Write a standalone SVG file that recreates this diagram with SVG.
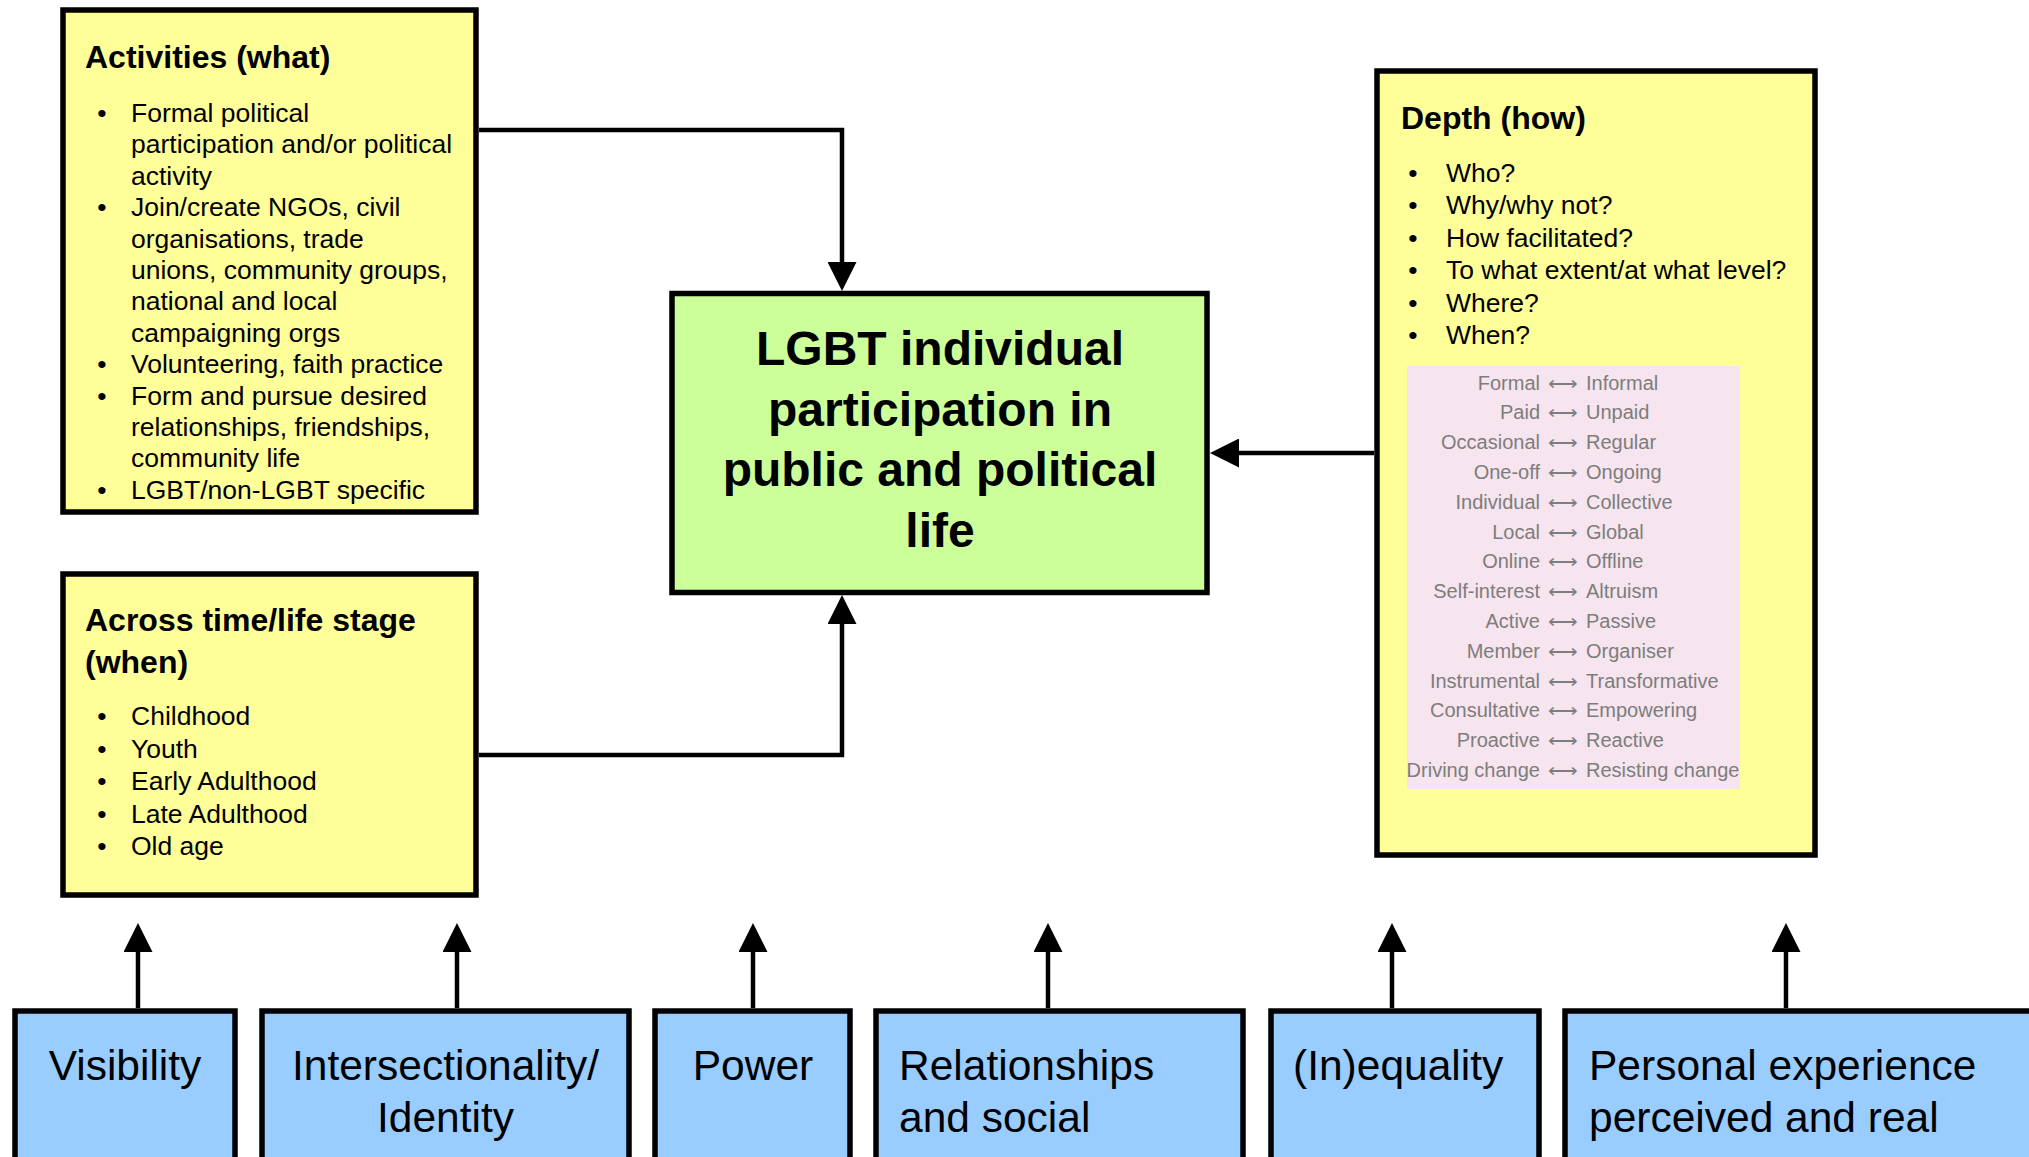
<svg xmlns="http://www.w3.org/2000/svg" width="2029" height="1157" viewBox="0 0 2029 1157">
<style>
.box{stroke:#000;stroke-width:5.5}
.y{fill:#FFFF99}
.g{fill:#CCFF99}
.b{fill:#99CCFF}
.t{font-family:"Liberation Sans",Arial,Helvetica,sans-serif;fill:#000}
.h{font-size:32px;font-weight:bold}
.li{font-size:26.5px}
.bul{font-size:26.5px;text-anchor:middle}
.c{font-size:48px;font-weight:bold;text-anchor:middle}
.f{font-size:42.5px}
.p{font-family:"Liberation Sans",Arial,sans-serif;font-size:20px;fill:#7d7d7d}
.conn{fill:none;stroke:#000;stroke-width:4.5}
</style>
<defs>
<marker id="ah" viewBox="0 0 29 29" refX="2" refY="14.5" markerWidth="29" markerHeight="29" markerUnits="userSpaceOnUse" orient="auto">
<path d="M0,0 L29,14.5 L0,29 z" fill="#000"/>
</marker>
</defs>
<rect width="2029" height="1157" fill="#fff"/>

<g id="connectors">
<polyline class="conn" points="479,130 842,130 842,264" marker-end="url(#ah)"/>
<polyline class="conn" points="479,755 842,755 842,622" marker-end="url(#ah)"/>
<line class="conn" x1="1374" y1="453" x2="1237" y2="453" marker-end="url(#ah)"/>
<line class="conn" x1="138" y1="1008" x2="138" y2="950" marker-end="url(#ah)"/>
<line class="conn" x1="457" y1="1008" x2="457" y2="950" marker-end="url(#ah)"/>
<line class="conn" x1="753" y1="1008" x2="753" y2="950" marker-end="url(#ah)"/>
<line class="conn" x1="1048" y1="1008" x2="1048" y2="950" marker-end="url(#ah)"/>
<line class="conn" x1="1392" y1="1008" x2="1392" y2="950" marker-end="url(#ah)"/>
<line class="conn" x1="1786" y1="1008" x2="1786" y2="950" marker-end="url(#ah)"/>
</g>

<g id="activities">
<rect class="box y" x="63" y="10" width="413" height="502"/>
<text class="t h" x="85" y="68">Activities (what)</text>
<g class="t">
<text class="bul" x="102" y="122">•</text>
<text class="li" x="131" y="122">Formal political</text>
<text class="li" x="131" y="153.4">participation and/or political</text>
<text class="li" x="131" y="184.8">activity</text>
<text class="bul" x="102" y="216.2">•</text>
<text class="li" x="131" y="216.2">Join/create NGOs, civil</text>
<text class="li" x="131" y="247.6">organisations, trade</text>
<text class="li" x="131" y="279">unions, community groups,</text>
<text class="li" x="131" y="310.4">national and local</text>
<text class="li" x="131" y="341.8">campaigning orgs</text>
<text class="bul" x="102" y="373.2">•</text>
<text class="li" x="131" y="373.2">Volunteering, faith practice</text>
<text class="bul" x="102" y="404.6">•</text>
<text class="li" x="131" y="404.6">Form and pursue desired</text>
<text class="li" x="131" y="436">relationships, friendships,</text>
<text class="li" x="131" y="467.4">community life</text>
<text class="bul" x="102" y="498.8">•</text>
<text class="li" x="131" y="498.8">LGBT/non-LGBT specific</text>
</g>
</g>

<g id="across">
<rect class="box y" x="63" y="574" width="413" height="321"/>
<text class="t h" x="85" y="631">Across time/life stage</text>
<text class="t h" x="85" y="673">(when)</text>
<g class="t">
<text class="bul" x="102" y="725">•</text>
<text class="li" x="131" y="725">Childhood</text>
<text class="bul" x="102" y="757.5">•</text>
<text class="li" x="131" y="757.5">Youth</text>
<text class="bul" x="102" y="790">•</text>
<text class="li" x="131" y="790">Early Adulthood</text>
<text class="bul" x="102" y="822.5">•</text>
<text class="li" x="131" y="822.5">Late Adulthood</text>
<text class="bul" x="102" y="855">•</text>
<text class="li" x="131" y="855">Old age</text>
</g>
</g>

<g id="centre">
<rect class="box g" x="672" y="293.5" width="535" height="299"/>
<g class="t c">
<text x="940" y="365">LGBT individual</text>
<text x="940" y="425.5">participation in</text>
<text x="940" y="486">public and political</text>
<text x="940" y="546.5">life</text>
</g>
</g>

<g id="depth">
<rect class="box y" x="1377" y="71" width="438" height="784"/>
<text class="t h" x="1401" y="129">Depth (how)</text>
<g class="t">
<text class="bul" x="1413" y="182">•</text>
<text class="li" x="1446" y="182">Who?</text>
<text class="bul" x="1413" y="214">•</text>
<text class="li" x="1446" y="214">Why/why not?</text>
<text class="bul" x="1413" y="246.5">•</text>
<text class="li" x="1446" y="246.5">How facilitated?</text>
<text class="bul" x="1413" y="279">•</text>
<text class="li" x="1446" y="279">To what extent/at what level?</text>
<text class="bul" x="1413" y="311.5">•</text>
<text class="li" x="1446" y="311.5">Where?</text>
<text class="bul" x="1413" y="344">•</text>
<text class="li" x="1446" y="344">When?</text>
</g>
<rect x="1407" y="366" width="333" height="423" fill="#F6E4EE"/>
<g class="p">
<text x="1540" y="389.5" text-anchor="end">Formal</text><text x="1563" y="389.5" text-anchor="middle" textLength="30" lengthAdjust="spacingAndGlyphs">⟷</text><text x="1586" y="389.5">Informal</text>
<text x="1540" y="419.3" text-anchor="end">Paid</text><text x="1563" y="419.3" text-anchor="middle" textLength="30" lengthAdjust="spacingAndGlyphs">⟷</text><text x="1586" y="419.3">Unpaid</text>
<text x="1540" y="449.1" text-anchor="end">Occasional</text><text x="1563" y="449.1" text-anchor="middle" textLength="30" lengthAdjust="spacingAndGlyphs">⟷</text><text x="1586" y="449.1">Regular</text>
<text x="1540" y="478.9" text-anchor="end">One-off</text><text x="1563" y="478.9" text-anchor="middle" textLength="30" lengthAdjust="spacingAndGlyphs">⟷</text><text x="1586" y="478.9">Ongoing</text>
<text x="1540" y="508.7" text-anchor="end">Individual</text><text x="1563" y="508.7" text-anchor="middle" textLength="30" lengthAdjust="spacingAndGlyphs">⟷</text><text x="1586" y="508.7">Collective</text>
<text x="1540" y="538.5" text-anchor="end">Local</text><text x="1563" y="538.5" text-anchor="middle" textLength="30" lengthAdjust="spacingAndGlyphs">⟷</text><text x="1586" y="538.5">Global</text>
<text x="1540" y="568.3" text-anchor="end">Online</text><text x="1563" y="568.3" text-anchor="middle" textLength="30" lengthAdjust="spacingAndGlyphs">⟷</text><text x="1586" y="568.3">Offline</text>
<text x="1540" y="598.1" text-anchor="end">Self-interest</text><text x="1563" y="598.1" text-anchor="middle" textLength="30" lengthAdjust="spacingAndGlyphs">⟷</text><text x="1586" y="598.1">Altruism</text>
<text x="1540" y="627.9" text-anchor="end">Active</text><text x="1563" y="627.9" text-anchor="middle" textLength="30" lengthAdjust="spacingAndGlyphs">⟷</text><text x="1586" y="627.9">Passive</text>
<text x="1540" y="657.7" text-anchor="end">Member</text><text x="1563" y="657.7" text-anchor="middle" textLength="30" lengthAdjust="spacingAndGlyphs">⟷</text><text x="1586" y="657.7">Organiser</text>
<text x="1540" y="687.5" text-anchor="end">Instrumental</text><text x="1563" y="687.5" text-anchor="middle" textLength="30" lengthAdjust="spacingAndGlyphs">⟷</text><text x="1586" y="687.5">Transformative</text>
<text x="1540" y="717.3" text-anchor="end">Consultative</text><text x="1563" y="717.3" text-anchor="middle" textLength="30" lengthAdjust="spacingAndGlyphs">⟷</text><text x="1586" y="717.3">Empowering</text>
<text x="1540" y="747.1" text-anchor="end">Proactive</text><text x="1563" y="747.1" text-anchor="middle" textLength="30" lengthAdjust="spacingAndGlyphs">⟷</text><text x="1586" y="747.1">Reactive</text>
<text x="1540" y="776.9" text-anchor="end">Driving change</text><text x="1563" y="776.9" text-anchor="middle" textLength="30" lengthAdjust="spacingAndGlyphs">⟷</text><text x="1586" y="776.9">Resisting change</text>
</g>
</g>

<g id="visibility">
<rect class="box b" x="15" y="1011" width="220" height="170"/>
<text class="t f" x="125" y="1080" text-anchor="middle">Visibility</text>
</g>
<g id="intersectionality">
<rect class="box b" x="262" y="1011" width="367" height="170"/>
<text class="t f" x="445.5" y="1080" text-anchor="middle">Intersectionality/</text>
<text class="t f" x="445.5" y="1132" text-anchor="middle">Identity</text>
</g>
<g id="power">
<rect class="box b" x="655" y="1011" width="195" height="170"/>
<text class="t f" x="753" y="1080" text-anchor="middle">Power</text>
</g>
<g id="relationships">
<rect class="box b" x="876" y="1011" width="367" height="170"/>
<text class="t f" x="899" y="1080">Relationships</text>
<text class="t f" x="899" y="1132">and social</text>
</g>
<g id="inequality">
<rect class="box b" x="1271" y="1011" width="268" height="170"/>
<text class="t f" x="1293" y="1080">(In)equality</text>
</g>
<g id="personal">
<rect class="box b" x="1565" y="1011" width="490" height="170"/>
<text class="t f" x="1589" y="1080">Personal experience</text>
<text class="t f" x="1589" y="1132">perceived and real</text>
</g>
</svg>
